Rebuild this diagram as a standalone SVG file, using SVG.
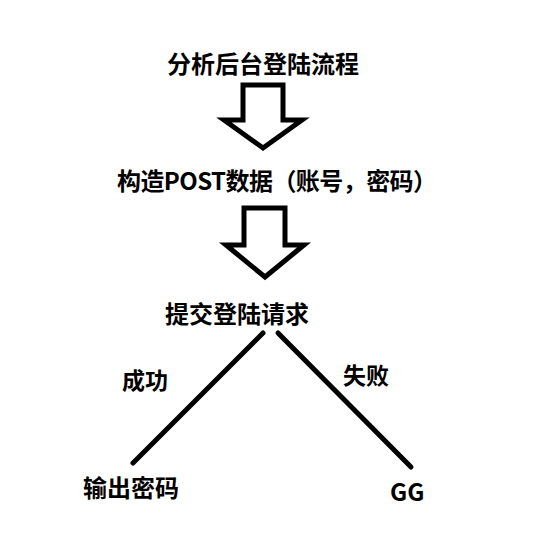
<svg xmlns="http://www.w3.org/2000/svg" width="534" height="551" viewBox="0 0 534 551">
<style>
.t{font-family:"Microsoft YaHei","Noto Sans CJK SC","Noto Sans",sans-serif;font-weight:bold;fill:#000}
.big{font-size:24px}
.mid{font-size:23px}
.arr{fill:#fff;stroke:#000;stroke-width:5;stroke-linejoin:miter}
.ln{stroke:#000;stroke-width:5;fill:none;stroke-linecap:round}
</style>
<rect width="534" height="551" fill="#fff"/>
<g id="n1"><text class="t big" x="167" y="73">分析后台登陆流程</text></g>
<g id="n2"><text class="t big" x="117" y="190" textLength="320" lengthAdjust="spacing">构造POST数据（账号，密码）</text></g>
<g id="n3"><text class="t big" x="165" y="323">提交登陆请求</text></g>
<g id="n4"><text class="t big" x="83" y="497">输出密码</text></g>
<g id="n5"><text class="t big" x="390" y="501">GG</text></g>
<g id="connectors">
<polygon class="arr" points="243,85 283,85 283,120 302,120 263,148 224,120 243,120"/>
<polygon class="arr" points="244,208 285,208 285,245 304,245 265,277 226,245 244,245"/>
<line class="ln" x1="263" y1="333" x2="133" y2="463"/>
<line class="ln" x1="278" y1="333" x2="411" y2="467"/>
<text class="t mid" x="122" y="389">成功</text>
<text class="t mid" x="343" y="384">失败</text>
</g>
</svg>
